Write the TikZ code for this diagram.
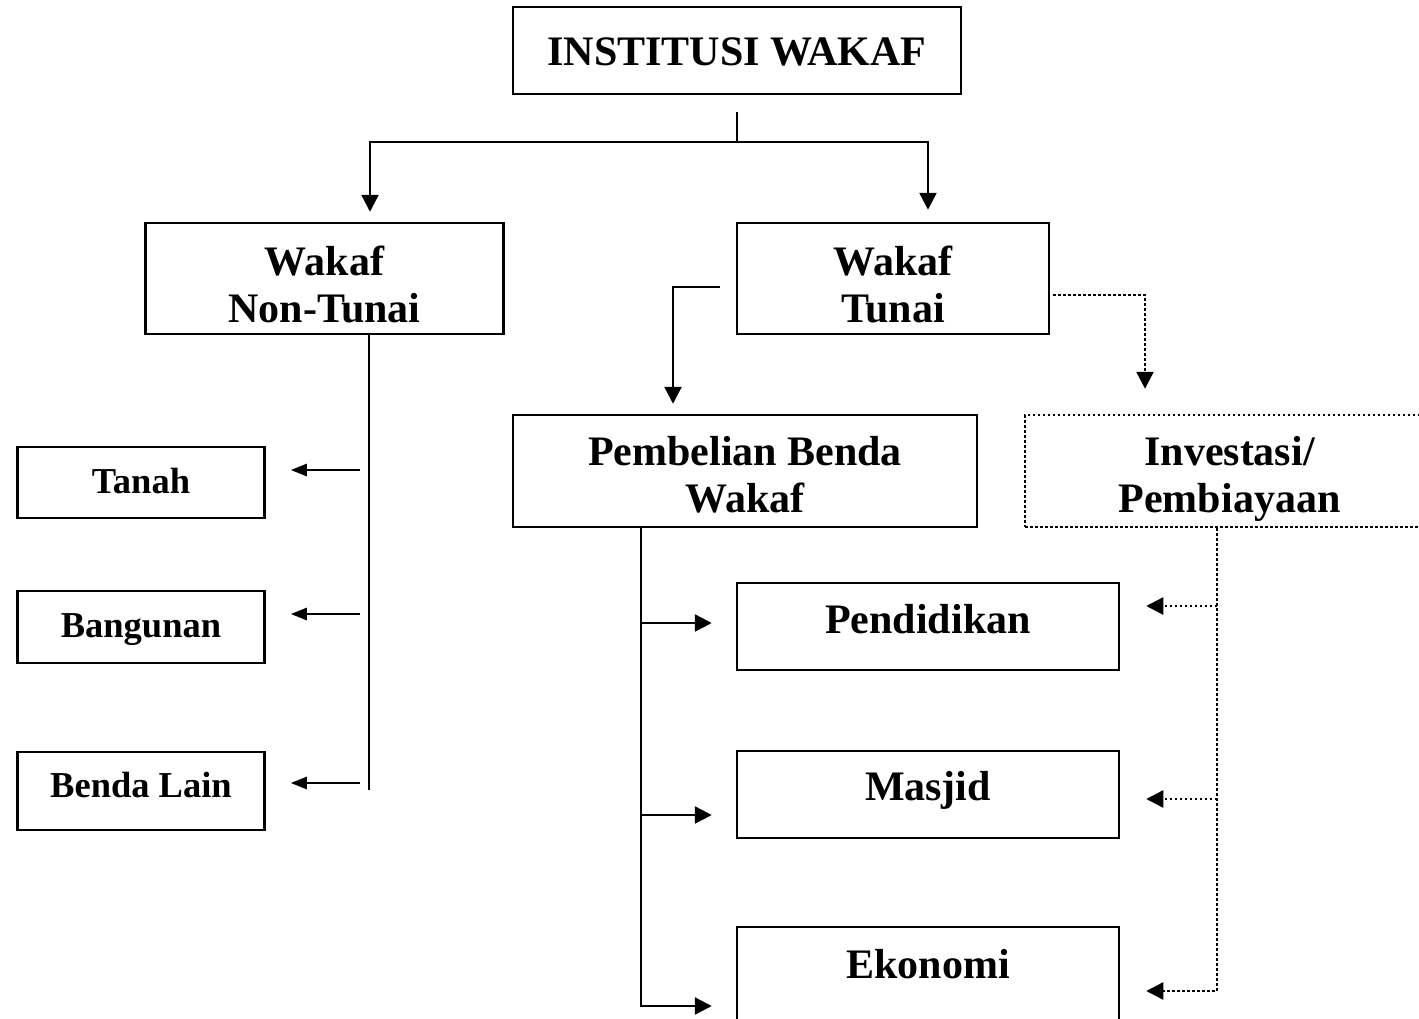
\documentclass[tikz,border=0pt]{standalone}
\usepackage{fontspec}
\setmainfont{Liberation Serif}
\usetikzlibrary{arrows.meta}
\newcommand{\twolines}[2]{\begin{tabular}[t]{@{}c@{}}#1\\#2\end{tabular}}

\begin{document}
\begin{tikzpicture}[x=1pt, y=-1pt, line width=2.5pt,
  >={Triangle[length=17pt,width=17pt]},
  box/.style={draw, inner sep=0pt, text height=0pt, text depth=0pt},
  bigbox/.style={box, font=\fontsize{42}{47.5}\selectfont\bfseries},
  smallbox/.style={box, minimum width=247pt, font=\fontsize{36.5}{44}\selectfont\bfseries},
  dotline/.style={dash pattern=on 2.5pt off 2.5pt},
  lefttip/.style={-{Triangle[length=16pt,width=12pt]}}]
  \useasboundingbox (0,0) rectangle (1419,1018);
  \clip (0,0) rectangle (1419,1018);

  % Top box
  \node[bigbox, minimum width=448pt, minimum height=87pt, text height=29pt] (inst) at (737,50.5) {INSTITUSI WAKAF};
  \coordinate (split) at (737,142);

  % Two kinds of wakaf
  \node[bigbox, minimum width=358pt, minimum height=111pt, text depth=7pt] (nontunai) at (324.5,278.5) {\twolines{Wakaf}{Non-Tunai}};
  \node[bigbox, minimum width=312pt, minimum height=111pt, text depth=7pt] (tunai) at (893,278.5) {\twolines{Wakaf}{Tunai}};

  \draw ([yshift=-17pt]inst.south) -- (split);
  \draw[->, shorten >=10pt] (split) -| ([xshift=45.5pt]nontunai.north);
  \draw[->, shorten >=12pt] (split) -| ([xshift=35pt]tunai.north);

  % Non-tunai branch
  \node[smallbox, minimum height=71pt, text height=21pt] (tanah) at (141,482.5) {Tanah};
  \node[smallbox, minimum height=72pt, text height=20pt] (bangunan) at (141,627) {Bangunan};
  \node[smallbox, minimum height=78pt, text height=13pt] (lain) at (141,791) {Benda Lain};

  \coordinate (ntend) at (369,790);
  \coordinate (nt1) at (369,470);
  \coordinate (nt2) at (369,614);
  \coordinate (nt3) at (369,783);
  \draw (nontunai.south -| ntend) -- (ntend);
  \foreach \c/\n in {nt1/tanah, nt2/bangunan, nt3/lain}
    \draw[lefttip, shorten <=9pt, shorten >=25pt] (\c) -- (\c -| \n.east);

  % Tunai branch
  \node[bigbox, minimum width=464pt, minimum height=112pt, text depth=12pt] (beli) at (745,471) {\twolines{Pembelian Benda}{Wakaf}};
  \node[bigbox, dotline, minimum width=409pt, minimum height=112pt, text depth=12pt] (invest) at (1229.5,471) {\twolines{Investasi/}{Pembiayaan}};

  \draw[->, shorten >=10pt] ([xshift=-16pt,yshift=-8.5pt]tunai.west) -| ([xshift=-72pt]beli.north);
  \draw[->, dotline, shorten >=25pt] ([xshift=3pt,yshift=-16.5pt]tunai.east) -| ([xshift=-84.5pt]invest.north);

  % Uses
  \node[bigbox, minimum width=382pt, minimum height=87pt, text height=13pt] (pend) at (928,626.5) {Pendidikan};
  \node[bigbox, minimum width=382pt, minimum height=87pt, text height=11pt] (masjid) at (928,794.5) {Masjid};
  \node[bigbox, minimum width=382pt, minimum height=110pt, text depth=7.5pt] (ekonomi) at (928,982) {Ekonomi};

  \coordinate (bt1) at (641,623);
  \coordinate (bt2) at (641,815);
  \coordinate (bt3) at (641,1006);
  \draw[->, shorten >=24pt] (beli.south -| bt3) -- (bt3) -- (bt3 -| ekonomi.west);
  \foreach \c/\n in {bt1/pend, bt2/masjid}
    \draw[->, shorten >=24pt] (\c) -- (\c -| \n.west);

  \coordinate (it1) at (1217,606);
  \coordinate (it2) at (1217,799);
  \coordinate (it3) at (1217,991);
  \draw[->, dotline, shorten >=26pt] (invest.south -| it3) -- (it3) -- (it3 -| ekonomi.east);
  \foreach \c/\n in {it1/pend, it2/masjid}
    \draw[->, dotline, shorten >=26pt] (\c) -- (\c -| \n.east);
\end{tikzpicture}
\end{document}
